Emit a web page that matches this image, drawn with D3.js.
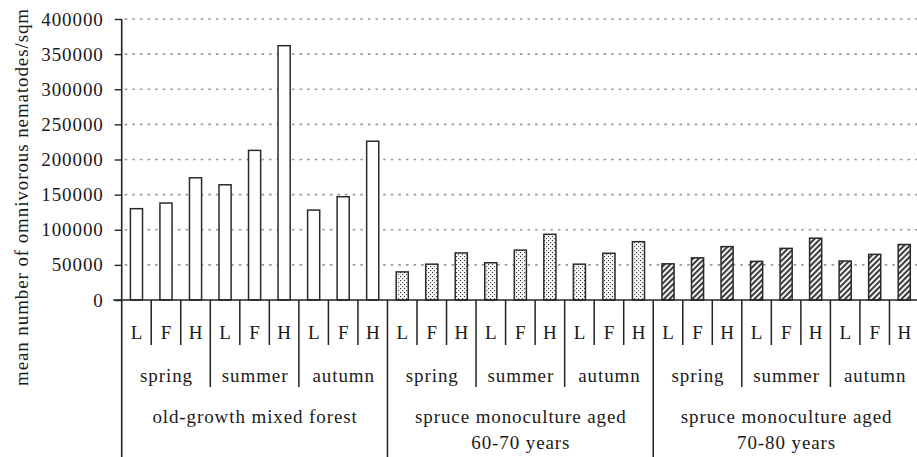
<!DOCTYPE html>
<html>
<head>
<meta charset="utf-8">
<script src="https://cdn.jsdelivr.net/npm/d3@7"></script>
<style>
  html, body { margin: 0; padding: 0; background: #fff; }
  svg { display: block; }
  text { font-family: "Liberation Serif", "Times New Roman", serif; fill: #1a1a1a; }
</style>
</head>
<body>
<svg id="chart" width="917" height="457"></svg>
<script>
// Nematode abundance by stand, season and soil layer
const layers = ["L", "F", "H"];
const seasons = ["spring", "summer", "autumn"];
const stands = [
  ["old-growth mixed forest"],
  ["spruce monoculture aged", "60-70 years"],
  ["spruce monoculture aged", "70-80 years"]
];
const oldGrowth = [130000, 138000, 174000, 164000, 213000, 362000, 128000, 147000, 226000];
const spruce6070 = [40000, 51000, 67000, 53000, 71000, 93500, 51000, 66500, 83000];
const spruce7080 = [51500, 60000, 76000, 55000, 73500, 88000, 55500, 65000, 79000];
const yTicks = [0, 50000, 100000, 150000, 200000, 250000, 300000, 350000, 400000];
const yTitle = "mean number of omnivorous nematodes/sqm";

const standValues = [oldGrowth, spruce6070, spruce7080];
const fills = ["#ffffff", "url(#dots)", "url(#hatch)"];

const rows = [];
standValues.forEach((vals, s) => {
  vals.forEach((v, i) => {
    rows.push({
      key: s + "-" + i,
      stand: s,
      season: Math.floor(i / 3),
      layer: layers[i % 3],
      value: v
    });
  });
});

const svg = d3.select("#chart");
const x0 = 121.7, x1 = 919, yBase = 300, yTop = 19;
const fontSize = 19, spacing = "0.9px";

const x = d3.scaleBand().domain(rows.map(d => d.key)).range([x0, x1]).padding(0);
const y = d3.scaleLinear().domain([0, 400000]).range([yBase, yTop]);
const bw = x.bandwidth();
const barW = bw * 0.41;

// fill patterns
const defs = svg.append("defs");
const dots = defs.append("pattern").attr("id", "dots")
  .attr("patternUnits", "userSpaceOnUse").attr("width", 4).attr("height", 4);
dots.append("rect").attr("width", 4).attr("height", 4).attr("fill", "#f8f8f8");
dots.append("rect").attr("x", 0).attr("y", 0).attr("width", 1.1).attr("height", 1.1).attr("fill", "#333");
dots.append("rect").attr("x", 2).attr("y", 2).attr("width", 1.1).attr("height", 1.1).attr("fill", "#555");

const hatch = defs.append("pattern").attr("id", "hatch")
  .attr("patternUnits", "userSpaceOnUse").attr("width", 4).attr("height", 4)
  .attr("patternTransform", "rotate(45)");
hatch.append("rect").attr("width", 4).attr("height", 4).attr("fill", "#f4f4f4");
hatch.append("rect").attr("x", 0).attr("y", 0).attr("width", 1.8).attr("height", 4).attr("fill", "#2a2a2a");

// dotted gridlines
svg.append("g")
  .selectAll("line")
  .data(yTicks.filter(t => t > 0))
  .join("line")
  .attr("x1", x0 + 3).attr("x2", 917)
  .attr("y1", d => y(d)).attr("y2", d => y(d))
  .attr("stroke", "#9a9a9a").attr("stroke-width", 1.6)
  .attr("stroke-dasharray", "2.6,5");

// y axis
const yAxis = svg.append("g")
  .attr("transform", `translate(${x0},0)`)
  .call(d3.axisLeft(y).tickValues(yTicks).tickFormat(d3.format("d")).tickSize(7).tickPadding(11));
yAxis.select(".domain").remove();
yAxis.selectAll(".tick line").attr("stroke", "#222").attr("stroke-width", 1.4);
yAxis.selectAll(".tick text")
  .attr("font-family", "Liberation Serif, serif")
  .attr("font-size", fontSize).style("letter-spacing", spacing).attr("fill", "#1a1a1a");
svg.append("line")
  .attr("x1", x0).attr("x2", x0).attr("y1", yTop).attr("y2", 457)
  .attr("stroke", "#222").attr("stroke-width", 1.6);

// bars
svg.append("g")
  .selectAll("rect")
  .data(rows)
  .join("rect")
  .attr("x", d => x(d.key) + (bw - barW) / 2)
  .attr("y", d => y(d.value))
  .attr("width", barW)
  .attr("height", d => y(0) - y(d.value))
  .attr("fill", d => fills[d.stand])
  .attr("stroke", "#2a2a2a").attr("stroke-width", 1.5);

// baseline
svg.append("line")
  .attr("x1", 113.3).attr("x2", 917).attr("y1", yBase).attr("y2", yBase)
  .attr("stroke", "#222").attr("stroke-width", 1.6);

// hierarchical category axis: separators
const sepLen = i => (i % 9 === 0 ? 157 : i % 3 === 0 ? 87 : 45);
const sepIdx = d3.range(1, rows.length + 1);
svg.append("g")
  .selectAll("line")
  .data(sepIdx)
  .join("line")
  .attr("x1", i => x0 + i * bw).attr("x2", i => x0 + i * bw)
  .attr("y1", yBase).attr("y2", i => yBase + sepLen(i))
  .attr("stroke", "#222").attr("stroke-width", 1.5);

const labelStyle = sel => sel
  .attr("text-anchor", "middle")
  .attr("font-size", fontSize)
  .style("letter-spacing", spacing);

// layer labels
svg.append("g")
  .selectAll("text")
  .data(rows)
  .join("text")
  .attr("x", d => x(d.key) + bw / 2 + 0.5)
  .attr("y", 339)
  .text(d => d.layer)
  .call(labelStyle);

// season labels
const seasonGroups = [];
stands.forEach((_, s) => seasons.forEach((name, k) => seasonGroups.push({ s, k, name })));
svg.append("g")
  .selectAll("text")
  .data(seasonGroups)
  .join("text")
  .attr("x", d => x0 + (d.s * 9 + d.k * 3 + 1.5) * bw + 0.5)
  .attr("y", 382)
  .text(d => d.name)
  .call(labelStyle);

// stand labels
const standG = svg.append("g")
  .selectAll("text")
  .data(stands)
  .join("text")
  .attr("x", (d, s) => x0 + (s * 9 + 4.5) * bw + 0.5)
  .attr("y", 423)
  .call(labelStyle);
standG.selectAll("tspan")
  .data(d => d)
  .join("tspan")
  .attr("x", function () { return d3.select(this.parentNode).attr("x"); })
  .attr("dy", (d, i) => (i === 0 ? 0 : 26))
  .text(d => d);

// y axis title
svg.append("text")
  .attr("transform", "translate(28,197) rotate(-90)")
  .attr("text-anchor", "middle")
  .attr("font-size", fontSize)
  .style("letter-spacing", spacing)
  .text(yTitle);
</script>
</body>
</html>
